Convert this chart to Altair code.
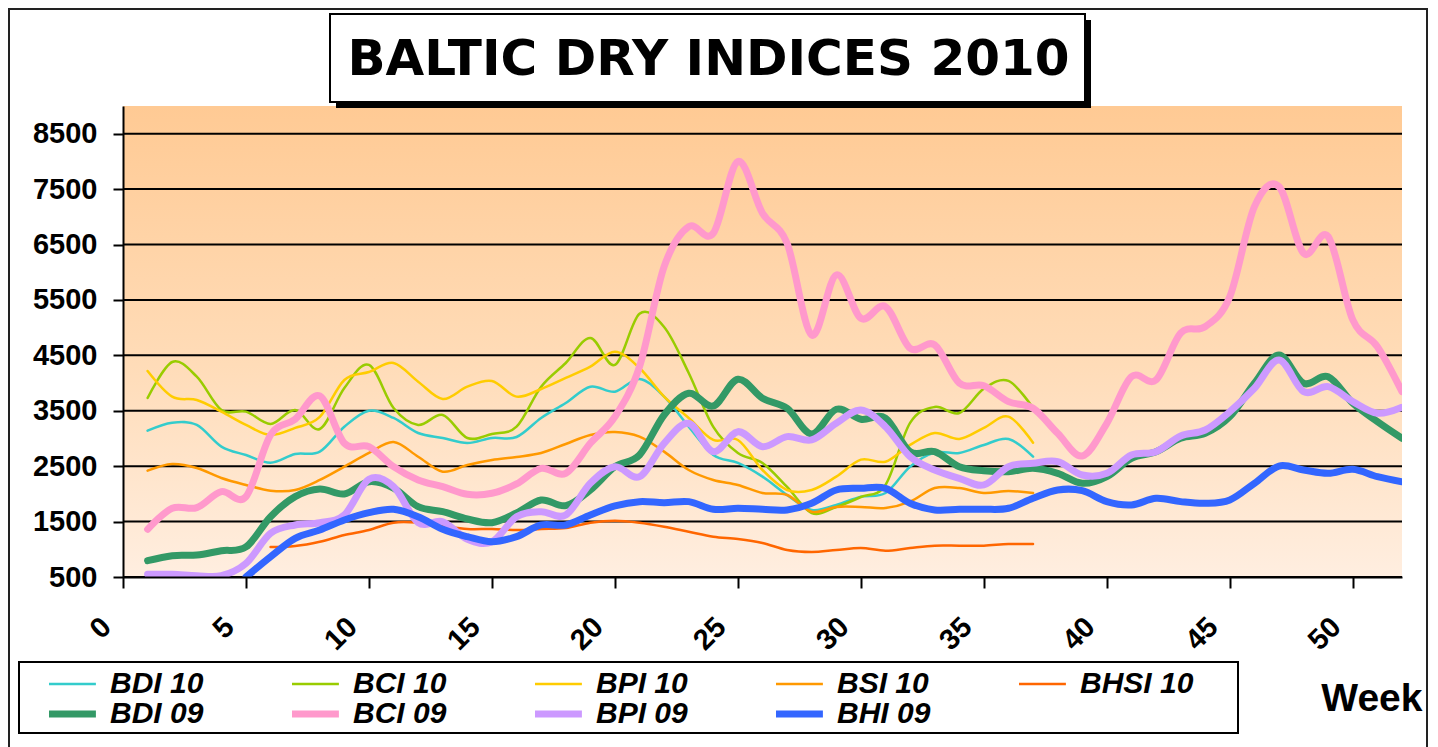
import altair as alt
import pandas as pd

# ---------------- data ----------------
weeks_2010 = list(range(1, 38))
weeks_bhsi_10 = list(range(6, 38))
weeks_2009 = list(range(1, 53))
weeks_bhi_09 = list(range(5, 53))

bdi_10 = [3141, 3285, 3244, 2853, 2702, 2563, 2720, 2762, 3213, 3502,
          3370, 3099, 3009, 2919, 3009, 3027, 3370, 3640, 3935, 3845,
          4074, 3755, 3213, 2702, 2558, 2311, 1980, 1710, 1800, 1950,
          2016, 2491, 2744, 2738, 2883, 2991, 2671]
bci_10 = [3731, 4380, 4115, 3514, 3484, 3262, 3514, 3171, 3911, 4327,
          3550, 3244, 3424, 3009, 3081, 3213, 3935, 4362, 4814, 4327,
          5250, 5012, 4182, 3208, 2738, 2558, 2125, 1655, 1764, 1944,
          2161, 3280, 3568, 3460, 3900, 4040, 3550]
bpi_10 = [4218, 3755, 3695, 3484, 3244, 3063, 3190, 3388, 4056, 4200,
          4362, 4025, 3713, 3935, 4038, 3755, 3893, 4092, 4296, 4567,
          4272, 3755, 3370, 2973, 2973, 2431, 2070, 2070, 2311, 2618,
          2581, 2883, 3099, 2991, 3190, 3394, 2924]
bsi_10 = [2419, 2540, 2467, 2287, 2161, 2058, 2070, 2251, 2491, 2738,
          2937, 2671, 2401, 2522, 2612, 2666, 2738, 2901, 3063, 3117,
          3033, 2762, 2431, 2251, 2161, 2016, 1980, 1679, 1764, 1764,
          1746, 1860, 2106, 2106, 2016, 2052, 2016]
bhsi_10 = [1042, 1060, 1137, 1258, 1348, 1480, 1480, 1420, 1366, 1366,
           1348, 1366, 1384, 1480, 1516, 1480, 1408, 1318, 1228, 1186,
           1114, 987, 951, 987, 1023, 975, 1023, 1065, 1065, 1065,
           1095, 1095]
bdi_09 = [794, 885, 897, 975, 1042, 1588, 1950, 2088, 1998, 2220,
          2106, 1769, 1679, 1547, 1480, 1655, 1890, 1787, 2070, 2491,
          2702, 3424, 3815, 3587, 4068, 3726, 3545, 3081, 3527, 3347,
          3365, 2762, 2762, 2491, 2419, 2401, 2461, 2371, 2191, 2311,
          2642, 2762, 3003, 3093, 3394, 3996, 4507, 3996, 4115, 3635,
          3304, 3003]
bci_09 = [1361, 1740, 1751, 2040, 1950, 3063, 3347, 3767, 2913, 2852,
          2491, 2251, 2130, 1993, 2011, 2179, 2461, 2371, 2913, 3394,
          4296, 6101, 6823, 6704, 8000, 7065, 6523, 4868, 5951, 5169,
          5379, 4628, 4690, 4000, 3950, 3665, 3545, 3093, 2684, 3274,
          4115, 4056, 4899, 5018, 5560, 7185, 7545, 6343, 6643, 5139,
          4657, 3845]
bpi_09 = [549, 549, 524, 524, 747, 1289, 1439, 1480, 1619, 2263,
          2130, 1480, 1498, 1180, 1137, 1588, 1679, 1619, 2191, 2491,
          2311, 2913, 3274, 2762, 3123, 2852, 3033, 2973, 3274, 3514,
          3213, 2671, 2431, 2281, 2161, 2491, 2552, 2581, 2341, 2371,
          2702, 2762, 3045, 3153, 3484, 3906, 4417, 3845, 3935, 3665,
          3455, 3563]
bhi_09 = [500, 867, 1198, 1348, 1529, 1661, 1722, 1588, 1361, 1228,
          1137, 1228, 1439, 1439, 1619, 1782, 1860, 1841, 1860, 1722,
          1740, 1722, 1710, 1830, 2070, 2101, 2101, 1830, 1710, 1722,
          1722, 1740, 1920, 2070, 2058, 1860, 1800, 1920, 1860, 1830,
          1890, 2191, 2503, 2431, 2371, 2444, 2311, 2220]

# legend order (filled column by column: 2 rows x 5 columns)
series_names = ["BDI 10", "BDI 09", "BCI 10", "BCI 09", "BPI 10",
                "BPI 09", "BSI 10", "BHI 09", "BHSI 10"]
series_colors = ["#33CCCC", "#339966", "#99CC00", "#FF99CC", "#FFCC00",
                 "#CC99FF", "#FF9900", "#3366FF", "#FF6600"]
series_widths = [2.5, 7, 2.5, 7, 2.5, 7, 2.5, 7, 2.5]

y_ticks = [500, 1500, 2500, 3500, 4500, 5500, 6500, 7500, 8500]
x_ticks = [0, 5, 10, 15, 20, 25, 30, 35, 40, 45, 50]
title_text = "BALTIC DRY INDICES 2010"
x_title = "Week"


def long(name, weeks, vals):
    return pd.DataFrame({"week": weeks, "value": vals, "series": name})


thin_df = pd.concat([
    long("BDI 10", weeks_2010, bdi_10),
    long("BCI 10", weeks_2010, bci_10),
    long("BPI 10", weeks_2010, bpi_10),
    long("BSI 10", weeks_2010, bsi_10),
    long("BHSI 10", weeks_bhsi_10, bhsi_10),
], ignore_index=True)
thick_df = pd.concat([
    long("BDI 09", weeks_2009, bdi_09),
    long("BCI 09", weeks_2009, bci_09),
    long("BPI 09", weeks_2009, bpi_09),
    long("BHI 09", weeks_bhi_09, bhi_09),
], ignore_index=True)
grid_df = pd.DataFrame({"value": y_ticks})
one = pd.DataFrame({"a": [0]})

W, H = 1279, 471
FONT = "Liberation Sans"

x_enc = alt.X(
    "week:Q",
    scale=alt.Scale(domain=[0, 52], nice=False, zero=False),
    axis=alt.Axis(values=x_ticks, format="d", labelAngle=315, labelAlign="right",
                  labelBaseline="middle", labelFontSize=29, labelOffset=-17,
                  labelPadding=34, tickSize=11, title=x_title, titleX=1299,
                  titleY=133, titleAlign="right", titleBaseline="alphabetic",
                  titleAngle=0, titleFontSize=39, titleFontWeight="bold",
                  titleFont=FONT, titleColor="black", zindex=1),
)
y_enc = alt.Y(
    "value:Q",
    scale=alt.Scale(domain=[500, 9000], nice=False, zero=False),
    axis=alt.Axis(values=y_ticks, format="d", labelFontSize=29, tickSize=10,
                  labelPadding=16, title=None, zindex=1),
)

legend = alt.Legend(
    title=None, orient="none", legendX=-74, legendY=563, columns=5,
    symbolType="M -2.9 0 L 2.9 0", symbolSize=484,
    labelFont=FONT, labelFontSize=30, labelFontWeight="bold",
    labelFontStyle="italic", labelColor="black", labelOffset=31,
    columnPadding=88, rowPadding=0, padding=0, clipHeight=30, zindex=2,
)
color_enc = alt.Color("series:N", scale=alt.Scale(domain=series_names, range=series_colors),
                      legend=legend)
width_enc = alt.StrokeWidth("series:N",
                            scale=alt.Scale(type="ordinal", domain=series_names, range=series_widths),
                            legend=legend)

bg = alt.Chart(one).mark_rect(
    color=alt.Gradient(gradient="linear", x1=0, x2=0, y1=0, y2=1,
                       stops=[alt.GradientStop(color="#FFCA94", offset=0),
                              alt.GradientStop(color="#FFDCB8", offset=0.55),
                              alt.GradientStop(color="#FFEEE0", offset=1)])
).encode(x=alt.value(0), x2=alt.value(W), y=alt.value(0), y2=alt.value(H))

frame = alt.Chart(one).mark_rect(filled=False, stroke="#222222", strokeWidth=2).encode(
    x=alt.value(-114), x2=alt.value(1304), y=alt.value(-97), y2=alt.value(H + 190))

title_shadow = alt.Chart(one).mark_rect(color="black").encode(
    x=alt.value(213), x2=alt.value(968), y=alt.value(-86), y2=alt.value(2))
title_box = alt.Chart(one).mark_rect(fill="white", stroke="black", strokeWidth=2).encode(
    x=alt.value(207), x2=alt.value(962), y=alt.value(-92), y2=alt.value(-4))
title_txt = alt.Chart(one).mark_text(
    text=title_text, font="DejaVu Sans", fontSize=50, fontWeight="bold",
    align="center", baseline="alphabetic", color="black"
).encode(x=alt.value(585.5), y=alt.value(-31))

legend_box = alt.Chart(one).mark_rect(filled=False, stroke="black", strokeWidth=2).encode(
    x=alt.value(-104), x2=alt.value(1115), y=alt.value(556), y2=alt.value(627))

grid = alt.Chart(grid_df).mark_rule(color="black", strokeWidth=2).encode(y=y_enc)

thin = alt.Chart(thin_df).mark_line(interpolate="cardinal", clip=True, strokeCap="round").encode(
    x=x_enc, y=y_enc, color=color_enc, strokeWidth=width_enc)
thick = alt.Chart(thick_df).mark_line(interpolate="cardinal", clip=True, strokeCap="round").encode(
    x=x_enc, y=y_enc, color=color_enc, strokeWidth=width_enc)

chart = alt.layer(
    bg, frame, title_shadow, title_box, title_txt, legend_box, grid, thin, thick
).properties(
    width=W, height=H,
    padding={"left": 115, "top": 98, "right": 26, "bottom": 170},
    autosize=alt.AutoSizeParams(type="none"),
    background="white",
).configure_view(stroke=None).configure_axis(
    labelFont=FONT, labelFontWeight="bold", labelColor="black",
    domainColor="black", domainWidth=2, tickColor="black", tickWidth=2, grid=False,
)

chart.save("out.html", embed_options={"renderer": "svg", "actions": False})
